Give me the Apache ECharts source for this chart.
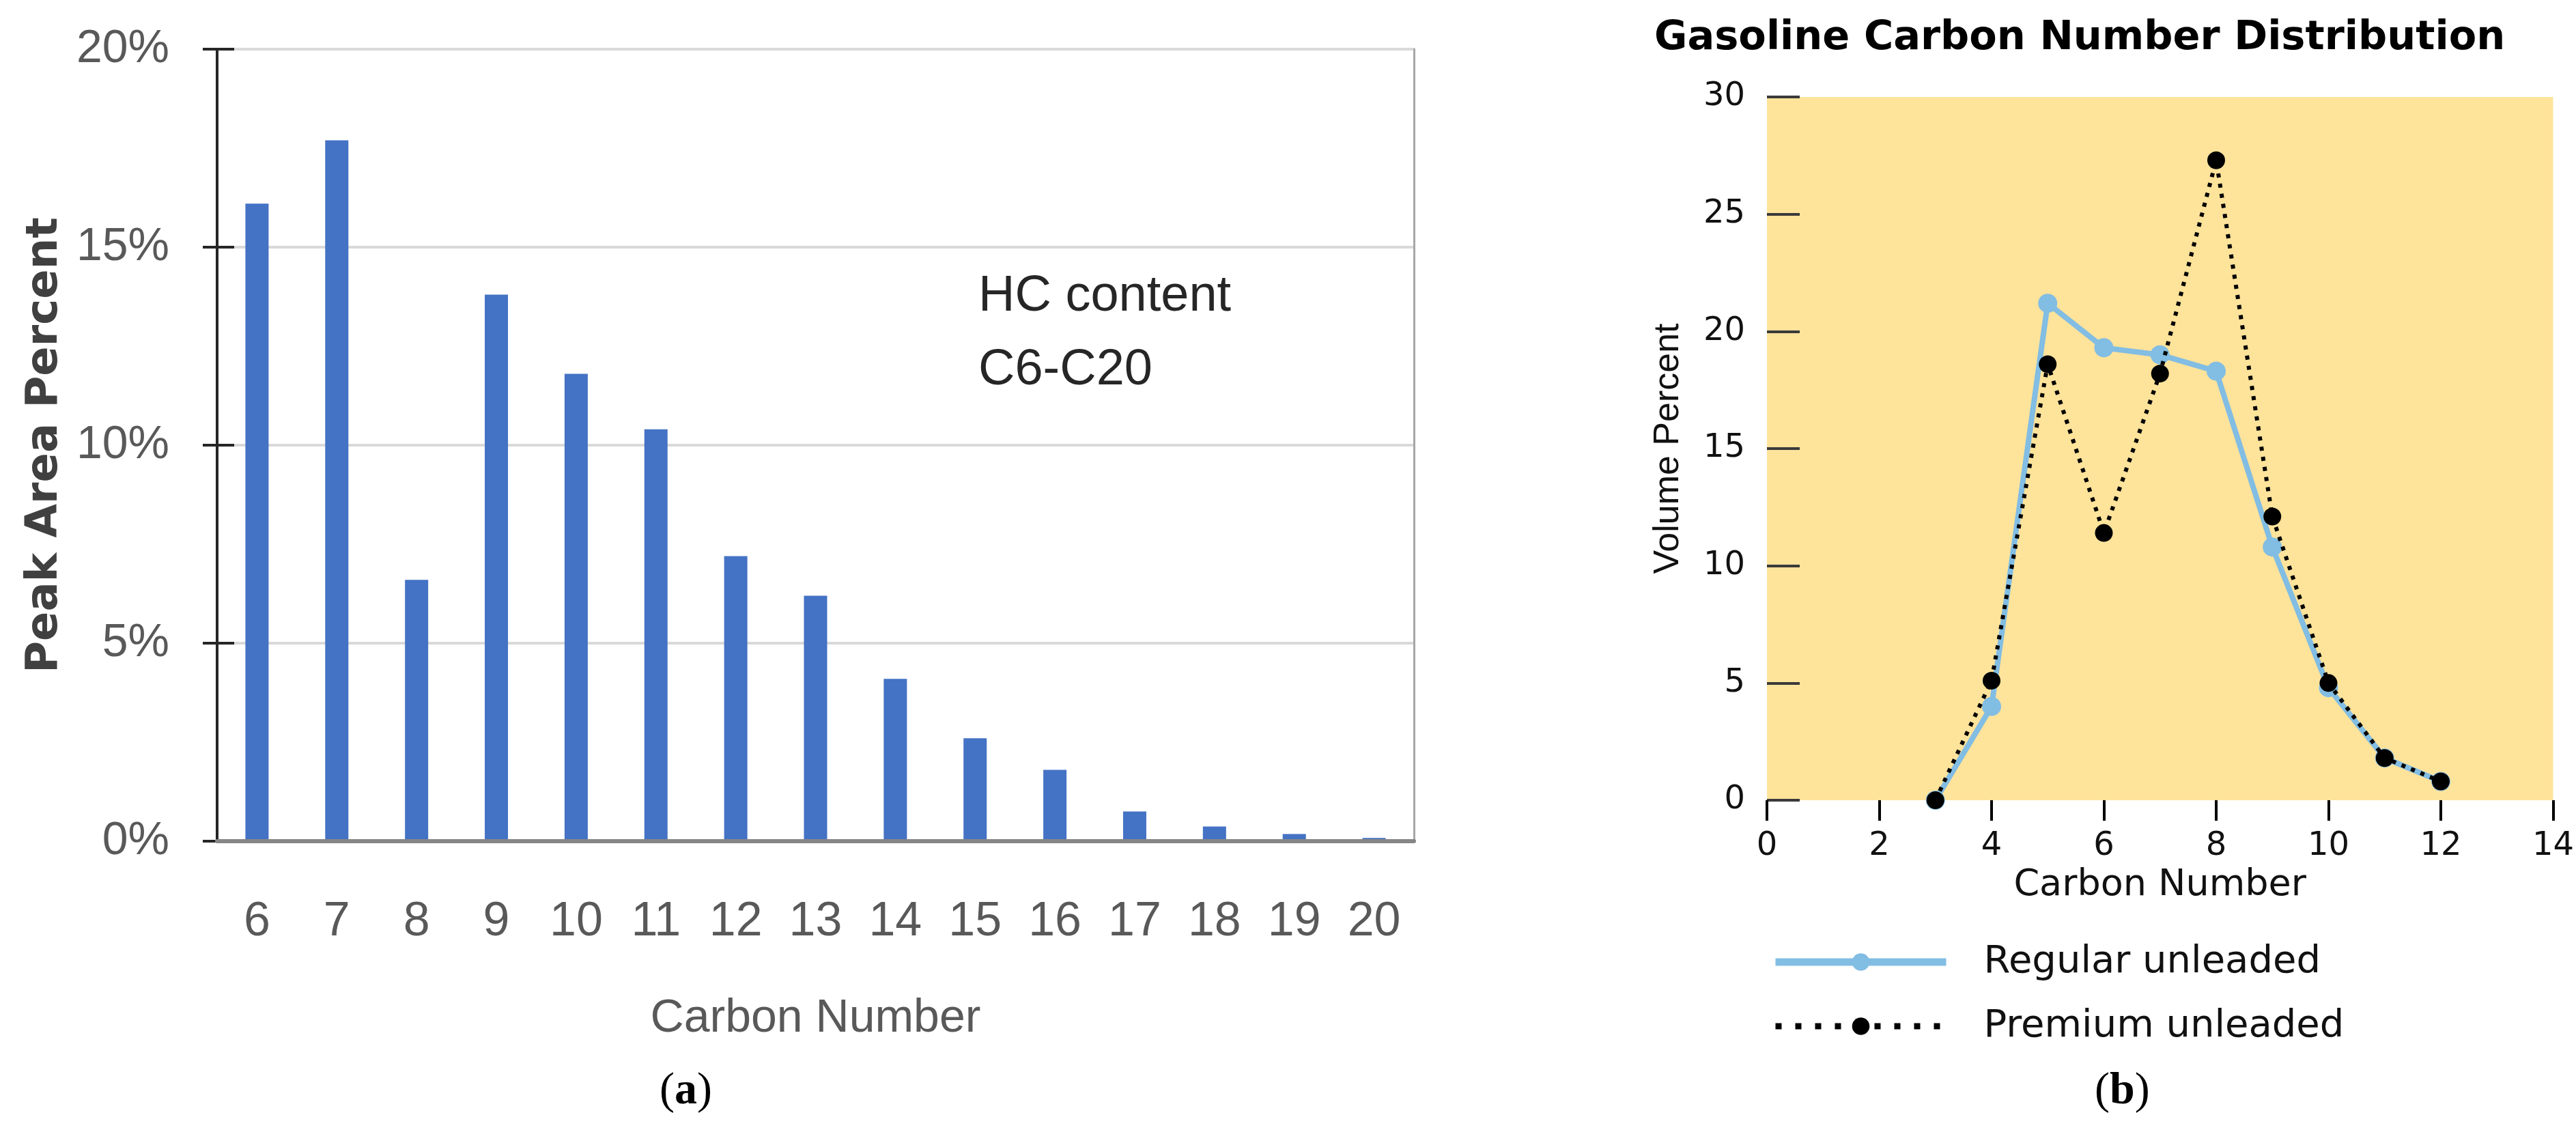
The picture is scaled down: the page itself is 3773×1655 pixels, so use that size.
<!DOCTYPE html>
<html>
<head>
<meta charset="utf-8">
<script src="https://cdn.jsdelivr.net/npm/echarts@6/dist/echarts.min.js"></script>
<style>
html,body{margin:0;padding:0;background:#fff;}
#c{width:3773px;height:1655px;}
</style>
</head>
<body>
<div id="c"></div>
<script>
// ---- Panel (a) data ----
const carbonA = ['6','7','8','9','10','11','12','13','14','15','16','17','18','19','20'];
const peakAreaPct = [16.1, 17.7, 6.6, 13.8, 11.8, 10.4, 7.2, 6.2, 4.1, 2.6, 1.8, 0.75, 0.37, 0.18, 0.08];
const yTicksA = [0, 5, 10, 15, 20];

// ---- Panel (b) data ----
const carbonB = [3, 4, 5, 6, 7, 8, 9, 10, 11, 12];
const regularUnleaded = [0, 4.0, 21.2, 19.3, 19.0, 18.3, 10.8, 4.8, 1.8, 0.8];
const premiumUnleaded = [0, 5.1, 18.6, 11.4, 18.2, 27.3, 12.1, 5.0, 1.8, 0.8];
const xTicksB = [0, 2, 4, 6, 8, 10, 12, 14];
const yTicksB = [0, 5, 10, 15, 20, 25, 30];

const NARROW = '"Liberation Sans", Arial, sans-serif';
const WIDE = '"DejaVu Sans", sans-serif';
const SERIF = '"Liberation Serif", "DejaVu Serif", serif';

const chart = echarts.init(document.getElementById('c'), null, {renderer: 'canvas'});

const option = {
  backgroundColor: '#ffffff',
  animation: false,
  title: {
    text: 'Gasoline Carbon Number Distribution',
    left: 2418, top: 22,
    textStyle: {fontFamily: WIDE, fontWeight: 'bold', fontSize: 59, color: '#000'}
  },
  legend: {
    orient: 'vertical',
    left: 2590, top: 1376,
    itemWidth: 250, itemHeight: 32, itemGap: 38,
    textStyle: {fontFamily: WIDE, fontSize: 56, color: '#111', lineHeight: 56, padding: [0, 0, 0, 50]},
    data: [
      {name: 'Regular unleaded', lineStyle: {width: 11}},
      {name: 'Premium unleaded', lineStyle: {width: 9, type: [9, 20]}}
    ]
  },
  grid: [
    {left: 318, right: 1702, top: 72, bottom: 423, containLabel: false},
    {left: 2588, right: 8, top: 142, bottom: 483, show: true, backgroundColor: '#FEE39B', borderWidth: 0}
  ],
  xAxis: [
    { // panel a bottom
      gridIndex: 0, type: 'category', data: carbonA, position: 'bottom',
      boundaryGap: true,
      axisLine: {show: true, lineStyle: {color: '#868686', width: 6}},
      axisTick: {show: false},
      axisLabel: {fontFamily: NARROW, fontSize: 70, color: '#595959', margin: 84},
      name: 'Carbon Number', nameLocation: 'middle', nameGap: 226,
      nameTextStyle: {fontFamily: NARROW, fontSize: 68, color: '#595959'},
      z: 5
    },
    { // panel a top border
      gridIndex: 0, type: 'category', data: carbonA, position: 'top',
      axisLine: {show: true, lineStyle: {color: '#1a1a1a', width: 4}},
      axisTick: {show: false}, axisLabel: {show: false}, splitLine: {show: false}
    },
    { // panel b
      gridIndex: 1, type: 'value', min: 0, max: 14, interval: 2,
      axisLine: {show: false},
      axisTick: {show: true, inside: false, length: 30, lineStyle: {color: '#000', width: 4}},
      axisLabel: {fontFamily: WIDE, fontSize: 48, color: '#111', margin: 44},
      splitLine: {show: false},
      name: 'Carbon Number', nameLocation: 'middle', nameGap: 98,
      nameTextStyle: {fontFamily: WIDE, fontSize: 54, color: '#111'}
    }
  ],
  yAxis: [
    { // panel a main
      gridIndex: 0, type: 'value', min: 0, max: 20, interval: 5,
      axisLine: {show: true, lineStyle: {color: '#262626', width: 4}},
      axisTick: {show: true, inside: false, length: 21, lineStyle: {color: '#262626', width: 4}},
      axisLabel: {fontFamily: NARROW, fontSize: 68, color: '#595959', margin: 70, formatter: '{value}%'},
      splitLine: {show: true, lineStyle: {color: '#d9d9d9', width: 4}},
      name: 'Peak Area Percent', nameLocation: 'middle', nameGap: 220,
      nameTextStyle: {fontFamily: WIDE, fontWeight: 'bold', fontSize: 64, color: '#404040'}
    },
    { // panel a inside ticks
      gridIndex: 0, type: 'value', min: 0, max: 20, interval: 5, position: 'left',
      axisLine: {show: false},
      axisTick: {show: true, inside: true, length: 25, lineStyle: {color: '#262626', width: 4}},
      axisLabel: {show: false}, splitLine: {show: false}
    },
    { // panel a right border
      gridIndex: 0, type: 'value', min: 0, max: 20, interval: 5, position: 'right',
      axisLine: {show: true, lineStyle: {color: '#a6a6a6', width: 3}},
      axisTick: {show: false}, axisLabel: {show: false}, splitLine: {show: false}
    },
    { // panel b
      gridIndex: 1, type: 'value', min: 0, max: 30, interval: 5,
      axisLine: {show: false},
      axisTick: {show: true, inside: true, length: 48, lineStyle: {color: '#3a3a3a', width: 4}},
      axisLabel: {fontFamily: WIDE, fontSize: 48, color: '#111', margin: 32},
      splitLine: {show: false},
      name: 'Volume Percent', nameLocation: 'middle', nameGap: 118,
      nameTextStyle: {fontFamily: NARROW, fontSize: 52, color: '#111'}
    }
  ],
  series: [
    {
      type: 'bar', name: 'Peak Area Percent', xAxisIndex: 0, yAxisIndex: 0,
      data: peakAreaPct, barWidth: 34,
      itemStyle: {color: '#4472C4'}
    },
    {
      type: 'line', name: 'Regular unleaded', xAxisIndex: 2, yAxisIndex: 3,
      data: carbonB.map((c, i) => [c, regularUnleaded[i]]),
      symbol: 'circle', symbolSize: 28,
      lineStyle: {color: '#82BDE3', width: 8},
      itemStyle: {color: '#82BDE3'},
      z: 3
    },
    {
      type: 'line', name: 'Premium unleaded', xAxisIndex: 2, yAxisIndex: 3,
      data: carbonB.map((c, i) => [c, premiumUnleaded[i]]),
      symbol: 'circle', symbolSize: 26,
      lineStyle: {color: '#000', width: 6, type: [6, 9]},
      itemStyle: {color: '#000'},
      z: 4
    }
  ],
  graphic: [
    {type: 'text', left: 1433, top: 398, style: {text: 'HC content', font: '74px "Liberation Sans", sans-serif', fill: '#262626'}},
    {type: 'text', left: 1433, top: 506, style: {text: 'C6-C20', font: '74px "Liberation Sans", sans-serif', fill: '#262626'}},
    {type: 'text', left: 966, top: 1566, style: {
      text: '({b|a})', font: '66px ' + SERIF, fill: '#000',
      rich: {b: {fontFamily: SERIF, fontSize: 66, fontWeight: 'bold', fill: '#000'}}
    }},
    {type: 'text', left: 3068, top: 1566, style: {
      text: '({b|b})', font: '66px ' + SERIF, fill: '#000',
      rich: {b: {fontFamily: SERIF, fontSize: 66, fontWeight: 'bold', fill: '#000'}}
    }}
  ]
};
chart.setOption(option);
</script>
</body>
</html>
